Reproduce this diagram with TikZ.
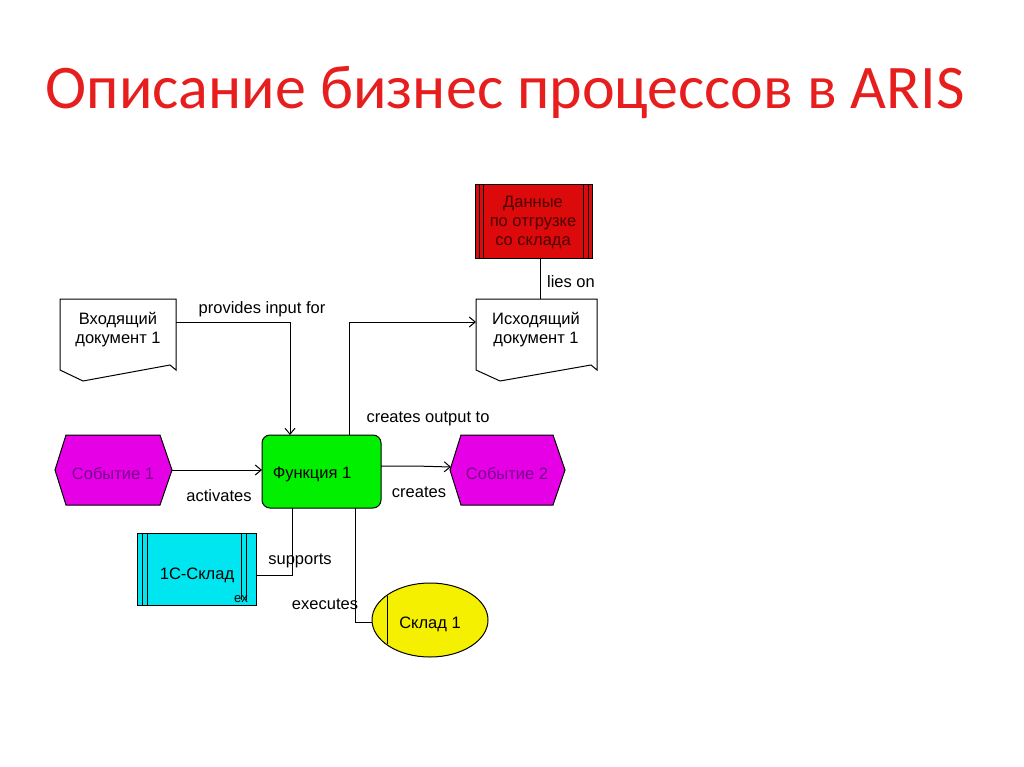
\documentclass[tikz,border=0pt]{standalone}
\usepackage{fontspec}
\setmainfont{Liberation Sans}
\newfontfamily\titlefont{Carlito}
\usetikzlibrary{arrows.meta}
\definecolor{tred}{RGB}{230,30,30}
\definecolor{mag}{RGB}{230,0,230}
\definecolor{magtxt}{RGB}{120,0,140}
\definecolor{cyn}{RGB}{0,230,240}
\definecolor{grn}{RGB}{0,240,0}
\definecolor{ylw}{RGB}{245,240,0}
\definecolor{rd}{RGB}{220,10,10}
\begin{document}
\begin{tikzpicture}[x=1pt,y=-1pt,
  lbl/.style={font=\fontsize{16.5}{19}\selectfont, inner sep=0},
  conn/.style={draw=black, line width=1pt},
  arr/.style={conn,-{Straight Barb[length=6pt,width=10pt]}},
  shp/.style={draw=black, line width=1pt}]
\useasboundingbox (0,0) rectangle (1024,767);
\node[text=tred, font=\titlefont\fontsize{62}{68}\selectfont] (title) at (505,92) {Описание бизнес процессов в ARIS};
% red data box
\filldraw[shp, fill=rd] (475,185) rectangle (592,258);
\draw[shp] (479,185)--(479,258) (483,185)--(483,258) (583,185)--(583,258) (588,185)--(588,258);
\node[lbl, align=center, text=black!70!red] (data) at (533,222) {Данные\\по отгрузке\\со склада};
% documents
\filldraw[shp, fill=white] (60,299)--(176,299)--(176,370)--(170,365)--(83,381)--(60,370)--cycle;
\node[lbl, align=center] (indoc) at (118,330) {Входящий\\документ 1};
\filldraw[shp, fill=white] (476,299)--(597,299)--(597,370)--(591,365)--(500,381)--(476,370)--cycle;
\node[lbl, align=center] (outdoc) at (536,330) {Исходящий\\документ 1};
% events
\filldraw[shp, fill=mag] (55,470)--(66,435)--(160,435)--(172,470)--(160,505)--(66,505)--cycle;
\node[lbl, text=magtxt] (ev1) at (113,474) {Событие 1};
\filldraw[shp, fill=mag] (450,470)--(461,435)--(553,435)--(565,470)--(553,505)--(461,505)--cycle;
\node[lbl, text=magtxt] (ev2) at (507,474) {Событие 2};
% function
\filldraw[shp, fill=grn, rounded corners=8pt] (262,435) rectangle (381,508);
\node[lbl] (fn) at (312,474) {Функция 1};
% system
\filldraw[shp, fill=cyn] (137,533) rectangle (256,605);
\draw[shp] (142,533)--(142,605) (147,533)--(147,605) (241,533)--(241,600) (246,533)--(246,600);
\node[lbl] (sys) at (197,575) {1С-Склад};
\node[lbl, font=\fontsize{13}{15}\selectfont] (ex) at (241,599) {ex};
% org unit
\filldraw[shp, fill=ylw] (430,620) ellipse [x radius=58, y radius=37];
\draw[shp] (387,596)--(387,644);
\node[lbl] (org) at (430,624) {Склад 1};
% connectors
\coordinate (c1) at (176,322); \coordinate (c2) at (290,322); \coordinate (c3) at (290,435);
\draw[arr] (c1)--(c2)--(c3);
\coordinate (d1) at (349,435); \coordinate (d2) at (349,322); \coordinate (d3) at (476,322);
\draw[arr] (d1)--(d2)--(d3);
\coordinate (e1) at (172,470); \coordinate (e2) at (262,470);
\draw[arr] (e1)--(e2);
\coordinate (f1) at (381,466); \coordinate (f2) at (415,466); \coordinate (f3) at (451,467);
\draw[arr] (f1)--(f2)--(f3);
\coordinate (g1) at (540,258); \coordinate (g2) at (540,299);
\draw[conn] (g1)--(g2);
\coordinate (h1) at (292,508); \coordinate (h2) at (292,575); \coordinate (h3) at (256,575);
\draw[conn] (h1)--(h2)--(h3);
\coordinate (i1) at (355,508); \coordinate (i2) at (355,622); \coordinate (i3) at (372,622);
\draw[conn] (i1)--(i2)--(i3);
% labels
\node[lbl] (l1) at (262,309) {provides input for};
\node[lbl] (l2) at (428,419) {creates output to};
\node[lbl] (l3) at (219,496) {activates};
\node[lbl] (l4) at (419,492) {creates};
\node[lbl] (l5) at (300,561) {supports};
\node[lbl] (l6) at (325,604) {executes};
\node[lbl] (l7) at (571,282) {lies on};
\end{tikzpicture}
\end{document}
